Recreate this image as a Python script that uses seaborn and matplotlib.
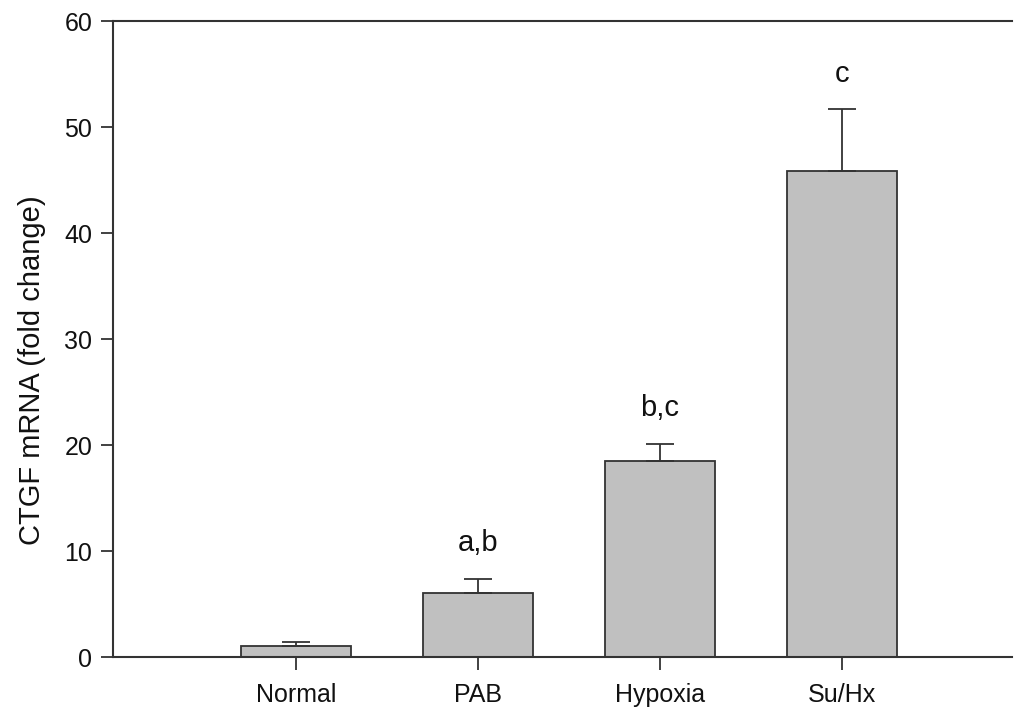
import matplotlib
matplotlib.use("Agg")
import matplotlib.pyplot as plt
import seaborn as sns
import pandas as pd
import numpy as np

categories = ["Normal", "PAB", "Hypoxia", "Su/Hx"]
means = [1.05, 6.0, 18.5, 45.9]
errors = [0.4, 1.4, 1.65, 5.8]
letters = ["", "a,b", "b,c", "c"]
y_ticks = [0, 10, 20, 30, 40, 50, 60]

sns.set_theme(style="white")
plt.rcParams['font.family'] = ['Liberation Sans', 'DejaVu Sans']

df = pd.DataFrame({"group": categories, "value": means})

fig = plt.figure(figsize=(10.16, 7.11), dpi=100)
ax = fig.add_axes([0.1112, 0.0759, 0.996 - 0.1112, 0.9698 - 0.0759])

edge = "#333333"
sns.barplot(data=df, x="group", y="value", order=categories, color="#c0c0c0",
            saturation=1, width=0.604, edgecolor=edge, linewidth=1.3,
            errorbar=None, ax=ax)

xs = np.arange(len(categories))
ax.errorbar(xs, means, yerr=[np.zeros(len(errors)), errors], fmt="none",
            ecolor=edge, elinewidth=1.3, capsize=10, capthick=1.3, zorder=3)

for x, m, e, lab in zip(xs, means, errors, letters):
    if lab:
        ax.text(x, m + e + 2.6, lab, ha="center", va="baseline",
                fontsize=21, color="#111111")

ax.set_xlim(-1.005, 3.934)
ax.set_ylim(0, 60)
ax.set_yticks(y_ticks)
ax.set_xlabel("")
ax.set_ylabel("CTGF mRNA (fold change)", fontsize=21, color="#111111")
ax.yaxis.set_label_coords(-0.075, 0.452)

for s in ["left", "bottom", "top"]:
    ax.spines[s].set_visible(True)
    ax.spines[s].set_color(edge)
    ax.spines[s].set_linewidth(1.5)
ax.spines["right"].set_visible(False)

ax.tick_params(axis="both", which="major", direction="out", length=9, width=1.3,
               color=edge, labelsize=18, labelcolor="#111111",
               left=True, bottom=True, pad=6)
ax.tick_params(axis="x", pad=10)

fig.savefig("out.png", dpi=100, facecolor="white")
